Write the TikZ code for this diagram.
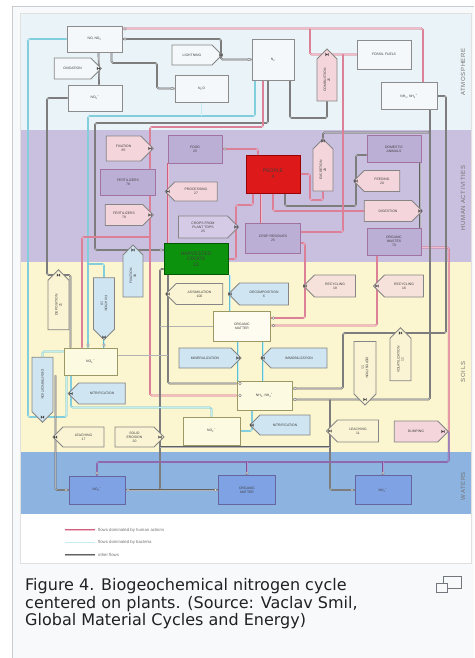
\documentclass[tikz,border=0pt]{standalone}
\usepackage{fontspec}
\setmainfont{Liberation Sans}
\newfontfamily\capfont{DejaVu Sans}
\newfontfamily\sidefont[LetterSpace=10]{Liberation Sans}
\usetikzlibrary{shapes.symbols}

\definecolor{frameline}{HTML}{C8CCD1}
\definecolor{framebg}{HTML}{F8F9FA}
\definecolor{atmo}{HTML}{EAF3F7}
\definecolor{human}{HTML}{C9BFDF}
\definecolor{humanbox}{HTML}{BCAFD6}
\definecolor{soil}{HTML}{FBF6CF}
\definecolor{water}{HTML}{8DB4E1}
\definecolor{pk}{HTML}{F4D5DC}
\definecolor{bl}{HTML}{CFE5F2}
\definecolor{yl}{HTML}{FAF4D4}
\definecolor{pr}{HTML}{D6CBE6}
\definecolor{wt}{HTML}{F4F8FA}
\definecolor{rc}{HTML}{F6E2DA}
\definecolor{pinkline}{HTML}{D0607C}
\definecolor{pinkcore}{HTML}{F2BCC9}
\definecolor{cyanline}{HTML}{5FBFD0}
\definecolor{cyancore}{HTML}{C4ECF2}
\definecolor{violine}{HTML}{7A4F9C}
\definecolor{violcore}{HTML}{B79AD0}
\definecolor{captext}{HTML}{202122}
\definecolor{icon}{HTML}{72777D}

\pgfdeclarelayer{bands}
\pgfdeclarelayer{pipes}
\pgfsetlayers{bands,pipes,main}

% small shut-off valve and pipe port symbols
\newcommand\vlv[1]{\fill[black!75] (#1) ++(-1.7,-1.7) -- ++(3.4,3.4) -- ++(0,-3.4) -- ++(-3.4,3.4) -- cycle;}
\newcommand\prt[1]{\draw[black!55,fill=white,line width=0.4pt] (#1) circle[radius=1.4pt];}

\tikzset{
  lbl/.style={font=\fontsize{3.4}{3.9}\selectfont, text=black!75, align=center, inner sep=0.5pt},
  sz/.style 2 args={minimum width=#1, minimum height=#2},
  bx/.style={lbl, rectangle, line width=0.9pt},
  abox/.style={bx, draw=black!45, fill=wt},
  hbox/.style={bx, draw=black!35!violet!55, fill=humanbox},
  sbox/.style={bx, draw=black!40!yellow!60!gray, fill=soil!60!white},
  wbox/.style={bx, draw=blue!35!black!60, fill=water!90!blue},
  pent/.style={lbl, signal, signal to=east, draw=black!48, line width=0.8pt},
  pentl/.style={pent, signal to=west},
  gp/.style={draw=black!62, line width=0.45pt, double=black!30, double distance=0.75pt, rounded corners=1.5pt},
  pp/.style={draw=pinkline, line width=0.45pt, double=pinkcore, double distance=0.75pt, rounded corners=1.5pt},
  cp/.style={draw=cyanline, line width=0.45pt, double=cyancore, double distance=0.75pt, rounded corners=1.5pt},
  vp/.style={draw=violine, line width=0.45pt, double=violcore, double distance=0.75pt, rounded corners=1.5pt},
  side/.style={font=\sidefont\fontsize{6}{6}\selectfont, text=black!55, rotate=90},
  legtext/.style={font=\fontsize{4.3}{5}\selectfont, text=black!55, anchor=west, inner sep=0pt},
  captxt/.style={font=\capfont\fontsize{16}{17.5}\selectfont, text=captext, anchor=base west, inner sep=0pt}
}

\begin{document}
\begin{tikzpicture}[x=1pt,y=-1pt]
\useasboundingbox (0,0) rectangle (474,658);

% ---------- frame and zone bands ----------
\begin{pgfonlayer}{bands}
  \fill[white] (0,0) rectangle (474,658);
  \fill[framebg] (12,6) rectangle (474,658);
  \draw[frameline, line width=1pt] (12.5,658) -- (12.5,6.5) -- (474,6.5);
  \fill[white] (20,13) rectangle (471,563);
  \fill[atmo]  (20,13)  rectangle (471,130);
  \fill[human] (20,130) rectangle (471,262);
  \fill[soil]  (20,262) rectangle (471,452);
  \fill[water] (20,452) rectangle (471,514);
  \draw[black!12, line width=0.6pt] (20,13) rectangle (471,563);
\end{pgfonlayer}

\node[side] (zatm) at (463,72)  {ATMOSPHERE};
\node[side] (zhum) at (463,198) {HUMAN ACTIVITIES};
\node[side] (zsoi) at (463,372) {SOILS};
\node[side] (zwat) at (463,486) {WATERS};

% ---------- atmosphere ----------
\node[abox, sz={55pt}{26pt}] (nono2) at (94.5,39) {NO, NO\textsubscript{2}};
\node[pent, fill=wt, sz={47pt}{21pt}] (oxid) at (72.5,68.5) {OXIDATION};
\node[abox, sz={54pt}{26pt}] (no3a) at (95,98) {NO\textsubscript{3}\textsuperscript{--}};
\node[pent, fill=wt, sz={50pt}{20pt}] (light) at (192,55) {LIGHTNING};
\node[abox, sz={53pt}{27pt}] (n2o) at (201.5,88.5) {N\textsubscript{2}O};
\node[abox, sz={42pt}{41pt}] (n2) at (273,59.5) {N\textsubscript{2}};
\node[pent, fill=pk, rotate=90, sz={52pt}{20pt}] (comb) at (327,80) {COMBUSTION\\25};
\node[abox, sz={54pt}{29pt}] (fossil) at (384,54.5) {FOSSIL FUELS};
\node[abox, sz={56pt}{27pt}] (nh3a) at (409,96) {NH\textsubscript{3}, NH\textsubscript{4}\textsuperscript{+}};

% ---------- human activities ----------
\node[pent, fill=pk, sz={47pt}{25pt}] (fix) at (123.5,148.5) {FIXATION\\85};
\node[hbox, sz={54pt}{28pt}] (food) at (195,149) {FOOD\\25};
\node[bx, draw=red!60!black, fill=red!85!black!90, sz={54pt}{38pt},
      font=\fontsize{5}{5.8}\selectfont, text=black!75] (people) at (273,174) {PEOPLE\\4};
\node[pent, fill=pk, rotate=90, sz={52pt}{20pt}] (excr) at (323,170) {EXCRETION\\20};
\node[hbox, sz={54pt}{27pt}] (domanim) at (394,149) {DOMESTIC\\ANIMALS};
\node[pentl, fill=pk, sz={46pt}{21pt}] (feed) at (382,181) {FEEDING\\20};
\node[pent, fill=pk, sz={58pt}{21pt}] (digest) at (388,211) {DIGESTION};
\node[hbox, sz={54pt}{27pt}] (orgw) at (394,241.5) {ORGANIC\\WASTES\\70};
\node[hbox, sz={55pt}{30pt}] (cropres) at (273,238) {CROP RESIDUES\\25};
\node[pent, fill=pr, sz={60pt}{22pt}] (crops) at (203,227) {CROPS FROM\\PLANT TOPS\\25};
\node[pentl, fill=pk, sz={52pt}{19pt}] (proc) at (196,191.5) {PROCESSING\\27};
\node[hbox, sz={55pt}{26pt}] (fertbox) at (128,182) {FERTILIZERS\\78};
\node[pent, fill=pk, sz={48pt}{21pt}] (fertpent) at (124,215) {FERTILIZERS\\78};
\node[bx, draw=green!35!black, fill=green!55!black!95!white, sz={64pt}{31pt},
      font=\fontsize{5}{5.6}\selectfont, text=black!75] (harv) at (196,259) {HARVESTED\\CROPS\\32};

% ---------- soils ----------
\node[pent, fill=bl, rotate=90, sz={52pt}{20pt}] (dep1) at (133,276) {FIXATION\\30};
\node[pent, fill=bl, rotate=-90, sz={62pt}{21pt}] (dep2) at (104,303.5) {FIXATION\\10};
\node[pent, fill=yl, rotate=90, sz={60pt}{21pt}] (sed) at (58.5,305) {DEPOSITION\\21};
\node[pent, fill=bl, rotate=-90, sz={65pt}{21pt}] (dep3) at (42.5,384.5) {DENITRIFICATION};
\node[pentl, fill=yl, sz={57pt}{21pt}] (assim) at (199.5,294) {ASSIMILATION\\100};
\node[pentl, fill=bl, sz={60pt}{22pt}] (decomp) at (264,294) {DECOMPOSITION\\6};
\node[pentl, fill=rc, sz={52pt}{22pt}] (recyc1) at (335,286) {RECYCLING\\18};
\node[pentl, fill=rc, sz={50pt}{22pt}] (recyc2) at (404,286) {RECYCLING\\16};
\node[sbox, fill=soil!30!white, sz={57pt}{30pt}] (orgm) at (242,326.5) {ORGANIC\\MATTER};
\node[sbox, sz={53pt}{27pt}] (no3s) at (90.5,361.5) {NO\textsubscript{3}\textsuperscript{--}};
\node[pent, fill=bl, sz={62pt}{20pt}] (minz) at (205,358) {MINERALIZATION};
\node[pentl, fill=bl, sz={66pt}{20pt}] (immob) at (299,358) {IMMOBILIZATION};
\node[sbox, sz={55pt}{29pt}] (nh3s) at (264.5,395.5) {NH\textsubscript{3}, NH\textsubscript{4}\textsuperscript{+}};
\node[pentl, fill=bl, sz={57pt}{21pt}] (nitr1) at (102,393.5) {NITRIFICATION};
\node[sbox, sz={57pt}{28pt}] (no2s) at (211.5,431) {NO\textsubscript{2}\textsuperscript{--}};
\node[pentl, fill=bl, sz={60pt}{20pt}] (nitr2) at (285,425) {NITRIFICATION};
\node[pentl, fill=yl, sz={51pt}{20pt}] (leach1) at (83.5,437) {LEACHING\\17};
\node[pent, fill=yl, sz={49pt}{20pt}] (eros) at (134.5,437) {SOLID\\EROSION\\20};
\node[pent, fill=yl, rotate=-90, sz={63.5pt}{22pt}] (deppent) at (365,367.75) {DEPOSITION\\11};
\node[pent, fill=yl, rotate=90, sz={53pt}{21pt}] (volpent) at (400.5,359.5) {VOLATILIZATION\\11};
\node[pentl, fill=yl, sz={52pt}{22pt}] (leach2) at (358,431) {LEACHING\\11};
\node[pent, fill=pk, sz={54pt}{21pt}] (dump) at (416,431.5) {DUMPING};

% ---------- waters ----------
\node[wbox, sz={56pt}{28pt}] (no3w) at (97,490) {NO\textsubscript{3}\textsuperscript{--}};
\node[wbox, sz={57pt}{29pt}] (orgmw) at (247,490) {ORGANIC\\MATTER};
\node[wbox, sz={56pt}{29pt}] (nh4w) at (383,490) {NH\textsubscript{4}\textsuperscript{+}};

% ---------- flows ----------
\begin{pgfonlayer}{pipes}
  % atmosphere
  \draw[pp] ([yshift=-3pt]nono2.north east) -| ([xshift=14pt]nh3a.north);
  \draw[pp] (fossil.west) -| (310,29);
  \draw[gp] (n2.west) -- (221,59.5) |- (nono2.east);
  \draw[gp] ([xshift=4pt]nono2.south) -- ([xshift=4pt]no3a.north);
  \draw[gp] ([xshift=17pt]nono2.south) |- (157,63) |- (n2o.west);
  \draw[gp] ([xshift=17pt]n2.south) |- (327,118) -- (comb.west);
  \draw[gp] ([xshift=-5pt]n2.south) |- (95,123) |- ([yshift=9pt]harv.west);
  \draw[cp] ([xshift=-18pt]n2.south) |- (88,116) -- ([xshift=-2.5pt]no3s.north);
  \draw[cp] (n2o.south) -- ++(0,14);
  \draw[cp] (88,264) -| (dep2.west);
  \draw[cp] (dep2.east) -- ([xshift=13.5pt]no3s.north);
  \draw[cp] (nono2.west) -| (28,417) -| ([xshift=-24pt]no3s.south);
  \draw[gp] (no3a.west) -| (47,275) -| ([xshift=-20pt]no3s.north);
  % human activities
  \draw[pp] ([xshift=-10pt]n2.south) |- (150,127) -- ([xshift=22pt]fertbox.north);
  \draw[pp] ([xshift=22pt]fertbox.south) |- (nh3s.west);
  \draw[pp] (150,237) -| ([xshift=-8.5pt]no3s.north);
  \draw[pp] (food.east) -| ([xshift=-15pt]people.north);
  \draw[pp] ([xshift=-28pt]harv.north) -- ([xshift=-27pt]food.south);
  \draw[pp] (harv.east) -| (236,205) -| ([xshift=-20pt]people.south);
  \draw[pp] ([xshift=-12pt]people.south) -- ([xshift=-12pt]cropres.north);
  \draw[pp] (people.south) |- (digest.west);
  \draw[pp] (people.east) -| (310,200) -| (excr.west);
  \draw[gp] (excr.east) -- ++(0,-6) -| ([xshift=21pt]nh3a.south);
  \draw[gp] ([yshift=-6pt]domanim.west) -| (356,206) -| ([xshift=12pt]people.south);
  \draw[pp] ([yshift=6pt]cropres.east) -| (343,54.5);
  \draw[pp] ([yshift=-5pt]cropres.east) -| (305,318) -- ([yshift=8.5pt]orgm.east);
  \draw[pp] ([xshift=-17pt]orgw.south) |- ([yshift=1pt]orgm.east);
  \draw[gp] ([xshift=26pt]domanim.south) -- ([xshift=26pt]orgw.north);
  \draw[pp] ([yshift=-6pt]orgw.east) -| (dump.east);
  % soils
  \draw[gp] ([xshift=21pt]nh3a.south) |- ([yshift=-4pt]nh3s.east);
  \draw[gp] ([yshift=7pt]nh3s.east) -| (343,333) -- (446,333) |- (nh3a.east);
  \draw[gp] (330,399.5) |- (nh4w.west);
  \draw[gp] ([xshift=-35pt]no3s.south) |- (no3w.west);
  \draw[gp] ([yshift=-10pt]harv.west) -| (160,300) |- (orgmw.west);
  \draw[gp] (no3w.east) -- (orgmw.west);
  \draw[gp] (orgm.west) -- (160,326.5);
  \draw[gp] (160,447) -- (330,447);
  \draw[gp] ([xshift=-28pt]harv.south) |- ([yshift=12pt]nh3s.west);
  \draw[gp] ([yshift=6pt]no3s.east) -- (168,355.5);
  \draw[cp] ([xshift=34pt]harv.south) -- ([xshift=-12pt]orgm.north);
  \draw[cp] ([xshift=-4pt]orgm.south) -- ([xshift=-26.5pt]nh3s.north);
  \draw[cp] ([xshift=-1.5pt]nh3s.north) -- ([xshift=21pt]orgm.south);
  \draw[cp] ([xshift=-12.5pt]nh3s.south) |- (no2s.east);
  \draw[cp] (no2s.north) -- ++(0,-9) -| ([xshift=-19.5pt]no3s.south);
  \draw[cp] ([yshift=10pt]no3s.west) -| (dep3.west);
  % waters
  \draw[vp] (dump.east) |- (97,462) -- (no3w.north);
  \draw[vp] (247,462) -- (orgmw.north);
  \draw[vp] (383,462) -- (nh4w.north);
\end{pgfonlayer}

% valves at the process tips
\foreach \p in {{221,55},{98.5,68.5},{327,54.5},{150,148.5},{150,215},{168,191.5},
  {236,227},{420,211},{356,181},{323,141},{133,250},{104,337},{58.5,275},{42.5,417},
  {168,294},{230,294},{305,286},{377,286},{238,358},{263,358},{71,393.5},{252,425},
  {55.5,437},{160,437},{365,399.5},{400.5,333},{330,431},{443,431.5}}
  {\vlv{\p}}

% pipe ports
\foreach \p in {{125,29},{125,39},{249,59.5},{172,88.5},{161,250},{225,149},
  {240,383.5},{240,395.5},{273.5,318},{273.5,325.5},{295,399.5},{295,388.5},
  {66,490},{128,490},{215.5,490},{352,490},{97,473},{247,473},{383,473},{88,345},{104,345}}
  {\prt{\p}}

% ---------- legend ----------
\draw[pp] (65,530) -- (95,530);
\draw[cp] (65,542.5) -- (95,542.5);
\draw[gp] (65,555) -- (95,555);
\node[legtext] (lg1) at (98,530) {flows dominated by human actions};
\node[legtext] (lg2) at (98,542.5) {flows dominated by bacteria};
\node[legtext] (lg3) at (98,555) {other flows};

% ---------- caption ----------
\node[captxt] (cap1) at (25,590.5) {Figure 4. Biogeochemical nitrogen cycle};
\node[captxt] (cap2) at (25,608) {centered on plants. (Source: Vaclav Smil,};
\node[captxt] (cap3) at (25,625.5) {Global Material Cycles and Energy)};
\draw[icon, line width=1.2pt] (443.5,576.5) rectangle (461.5,588.5);
\draw[icon, fill=framebg, line width=1.2pt] (436.5,583.5) rectangle (447.5,592.5);
\end{tikzpicture}
\end{document}
